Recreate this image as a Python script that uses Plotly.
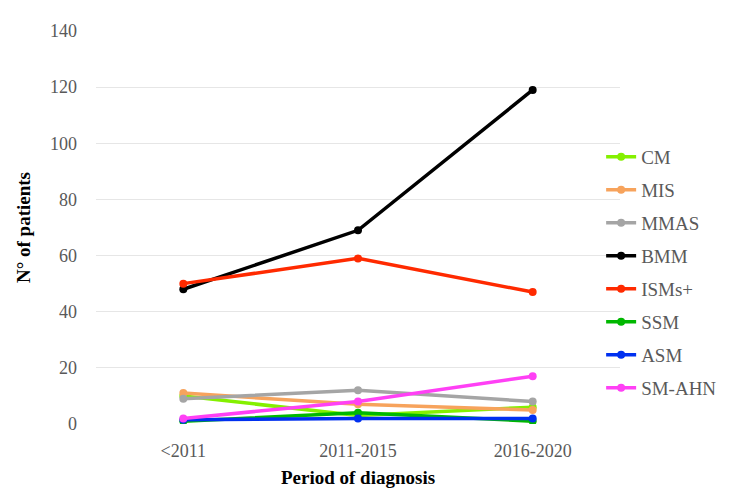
import plotly.graph_objects as go

periods = ["<2011", "2011-2015", "2016-2020"]
series_names = ["CM", "MIS", "MMAS", "BMM", "ISMs+", "SSM", "ASM", "SM-AHN"]
cm = [10, 3, 6]
mis = [11, 7, 5]
mmas = [9, 12, 8]
bmm = [48, 69, 119]
isms = [50, 59, 47]
ssm = [1, 4, 1]
asm = [1.5, 2, 2]
smahn = [2, 8, 17]
colors = ["#84F000", "#F7A35C", "#A5A5A5", "#000000", "#FF2A00", "#00B800", "#0030F0", "#FF40F5"]

values = [cm, mis, mmas, bmm, isms, ssm, asm, smahn]
font_family = "Liberation Serif"

fig = go.Figure()
for name, vals, col in zip(series_names, values, colors):
    fig.add_trace(go.Scatter(
        x=periods, y=vals, name=name, legendgroup=name,
        mode="lines+markers",
        line=dict(color=col, width=3.5),
        marker=dict(color=col, size=8),
    ))

fig.update_layout(
    width=737, height=504,
    paper_bgcolor="white", plot_bgcolor="white",
    margin=dict(l=88, r=125, t=23, b=88),
    font=dict(family=font_family, size=18, color="#595959"),
    showlegend=True,
    legend=dict(x=0.964, xanchor="left", y=0.728, yanchor="top",
                tracegroupgap=5.3, font=dict(size=19, color="#595959"),
                itemwidth=30, bgcolor="rgba(0,0,0,0)"),
    xaxis=dict(
        type="category", range=[-0.5, 2.5], showgrid=False, showline=False,
        zeroline=False, ticks="", ticklabelstandoff=14, automargin=False,
        tickfont=dict(size=18, color="#595959"),
        title=dict(text="<b>Period of diagnosis</b>", standoff=10,
                   font=dict(size=19, color="#000000")),
    ),
    yaxis=dict(
        range=[0, 140], dtick=20, showgrid=True, gridcolor="#E6E6E6", gridwidth=1,
        zeroline=False, showline=False, ticks="", ticklabelstandoff=18, automargin=False,
        tickfont=dict(size=18, color="#595959"),
        title=dict(text="<b>N° of patients</b>", standoff=14,
                   font=dict(size=19, color="#000000")),
    ),
)

fig.write_html("out.html")
